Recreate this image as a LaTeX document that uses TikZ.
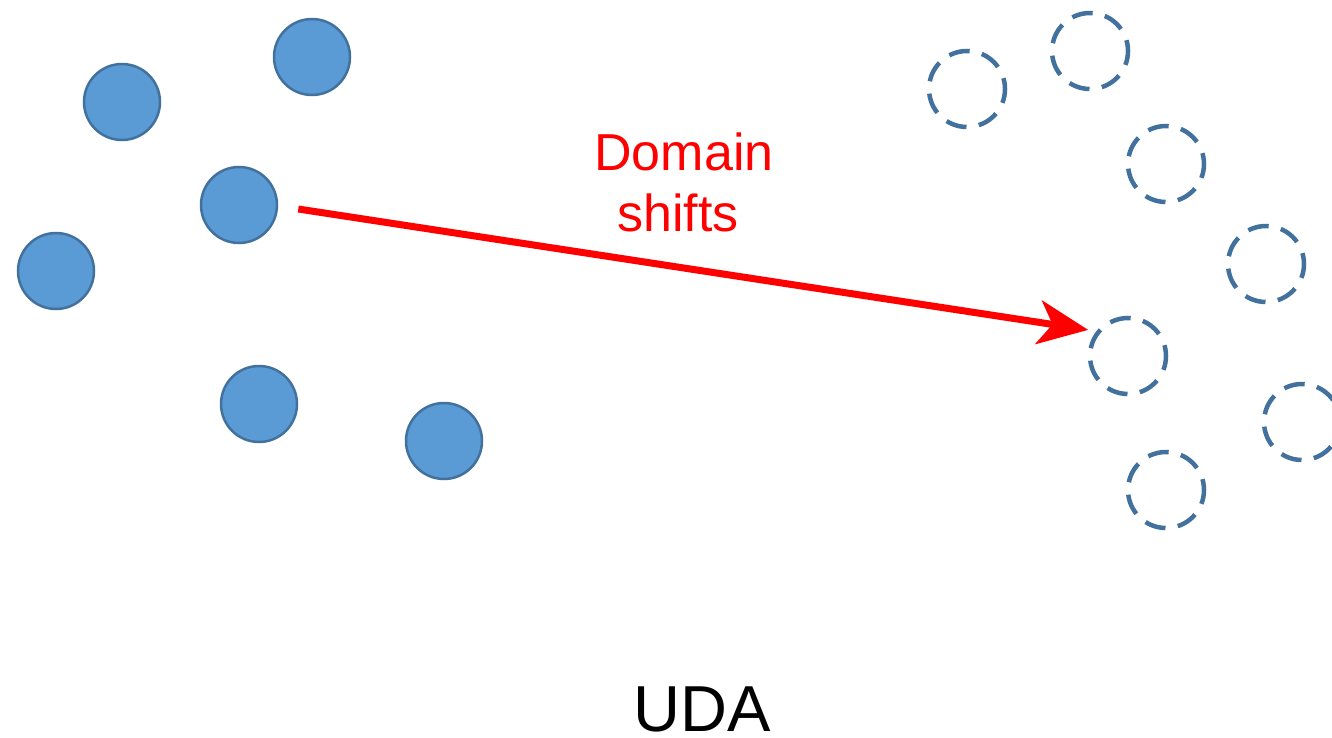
\documentclass[tikz,border=0pt]{standalone}
\usepackage{fontspec}
\setmainfont{Liberation Sans}
\usetikzlibrary{arrows.meta}
\definecolor{dotfill}{HTML}{5B9BD5}
\definecolor{dotline}{HTML}{41719C}
\definecolor{shiftred}{HTML}{FF0000}
\tikzset{
  src/.style={circle, minimum size=76pt, inner sep=0pt, fill=dotfill, draw=dotline, line width=2.5pt},
  tgt/.style={circle, minimum size=76pt, inner sep=0pt, draw=dotline, line width=4.5pt, dash pattern=on 21pt off 12.5pt, dash phase=10pt},
  shiftarrow/.style={draw=shiftred, line width=7pt, -{Stealth[length=50pt, width=44pt, inset=14pt]}},
  lbl/.style={font=\fontsize{52pt}{61pt}\selectfont, text=shiftred, align=center},
  title/.style={font=\fontsize{65pt}{70pt}\selectfont, text=black, inner sep=0pt, outer sep=0pt}
}
\begin{document}
\begin{tikzpicture}[x=1pt, y=-1pt]
\useasboundingbox (0,0) rectangle (1332,738);
\clip (0,0) rectangle (1332,738);
% source domain samples
\node[src] (c1) at (122,102) {};
\node[src] (c2) at (312,57) {};
\node[src] (c3) at (239,205) {};
\node[src] (c4) at (56,271) {};
\node[src] (c5) at (259,404) {};
\node[src] (c6) at (444,441) {};
% target domain samples
\node[tgt] (d1) at (967,89) {};
\node[tgt] (d2) at (1090,51) {};
\node[tgt] (d3) at (1166,164) {};
\node[tgt] (d4) at (1266,264) {};
\node[tgt] (d5) at (1128,356) {};
\node[tgt] (d6) at (1302,422) {};
\node[tgt] (d7) at (1166,490) {};
% arrow
\draw[shiftarrow] ([shift={(20,4)}]c3.east) -- ([shift={(-5,-6)}]d5.150);
\node[lbl] (shift) at (684,182) {Domain\\shifts\hspace*{12pt}};
\node[title, anchor=base] (uda) at (702,731) {UDA};
\end{tikzpicture}
\end{document}
